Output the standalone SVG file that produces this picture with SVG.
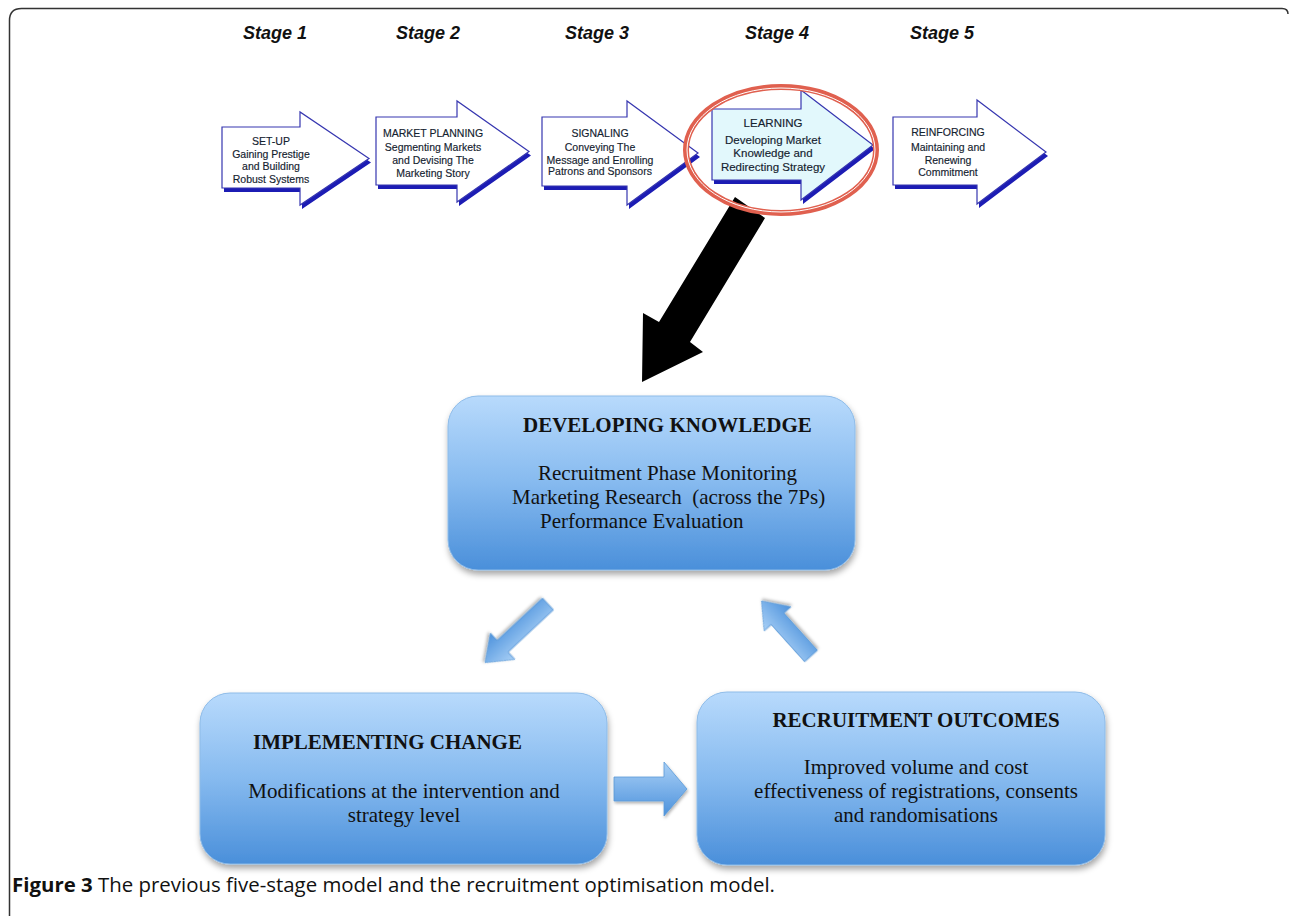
<svg xmlns="http://www.w3.org/2000/svg" width="1290" height="916" viewBox="0 0 1290 916">
<defs>
<linearGradient id="boxg" x1="0" y1="0" x2="0" y2="1">
<stop offset="0" stop-color="#b8dafc"/>
<stop offset="0.5" stop-color="#86baef"/>
<stop offset="1" stop-color="#4a8fda"/>
</linearGradient>
<linearGradient id="arrg" x1="0" y1="0" x2="0" y2="1">
<stop offset="0" stop-color="#a9d0f6"/>
<stop offset="1" stop-color="#4d92dc"/>
</linearGradient>
<filter id="sh" x="-10%" y="-10%" width="120%" height="130%">
<feDropShadow dx="1" dy="4" stdDeviation="3" flood-color="#000" flood-opacity="0.35"/>
</filter>
<filter id="sh2" x="-30%" y="-30%" width="160%" height="160%">
<feDropShadow dx="1" dy="2" stdDeviation="1.5" flood-color="#000" flood-opacity="0.3"/>
</filter>
</defs>
<style>
.stage{font-family:"Liberation Sans",Arial,sans-serif;font-weight:bold;font-style:italic;font-size:18px;fill:#111;text-anchor:middle}
.at{font-family:"Liberation Sans",Arial,sans-serif;font-size:10.5px;fill:#14222f;text-anchor:middle;stroke:#14222f;stroke-width:0.15}
.at4{font-size:11.5px}
.sa{fill:#fff;stroke:#3636b0;stroke-width:1.2}
.sas{fill:#1c1cb4}
.box{fill:url(#boxg);stroke:#8dbbe8;stroke-width:1;filter:url(#sh)}
.bt{font-family:"Liberation Serif","Times New Roman",serif;font-weight:bold;font-size:21px;fill:#111}
.bx{font-family:"Liberation Serif","Times New Roman",serif;font-size:21px;fill:#111;white-space:pre}
.sm{fill:url(#arrg);stroke:#5b9ad8;stroke-width:0.8;filter:url(#sh2)}
</style>

<path d="M9.5,916 V20.5 Q9.5,8.5 21.5,8.5 H1282 Q1288,8.5 1288,14" fill="none" stroke="#333" stroke-width="1.5"/>

<g id="stage-labels">
<text class="stage" x="275" y="39">Stage 1</text>
<text class="stage" x="428" y="39">Stage 2</text>
<text class="stage" x="597" y="39">Stage 3</text>
<text class="stage" x="777" y="39">Stage 4</text>
<text class="stage" x="942" y="39">Stage 5</text>
</g>

<g id="stage1">
<path class="sas" transform="translate(2,4)" d="M222,127 H300 V112 L369,158.5 L300,205 V188 H222 Z"/>
<path class="sa" d="M222,127 H300 V112 L369,158.5 L300,205 V188 H222 Z"/>
<text class="at" x="271" y="145">SET-UP</text>
<text class="at" x="271" y="158">Gaining Prestige</text>
<text class="at" x="271" y="170">and Building</text>
<text class="at" x="271" y="183">Robust Systems</text>
</g>

<g id="stage2">
<path class="sas" transform="translate(2,4)" d="M376,117 H457 V101 L529,151.5 L457,202 V185 H376 Z"/>
<path class="sa" d="M376,117 H457 V101 L529,151.5 L457,202 V185 H376 Z"/>
<text class="at" x="433" y="137">MARKET PLANNING</text>
<text class="at" x="433" y="151">Segmenting Markets</text>
<text class="at" x="433" y="164">and Devising The</text>
<text class="at" x="433" y="177">Marketing Story</text>
</g>

<g id="stage3">
<path class="sas" transform="translate(2,4)" d="M542,117 H627 V101 L698,153 L627,205 V186 H542 Z"/>
<path class="sa" d="M542,117 H627 V101 L698,153 L627,205 V186 H542 Z"/>
<text class="at" x="600" y="137">SIGNALING</text>
<text class="at" x="600" y="151">Conveying The</text>
<text class="at" x="600" y="164">Message and Enrolling</text>
<text class="at" x="600" y="175">Patrons and Sponsors</text>
</g>

<g id="stage4">
<path class="sas" transform="translate(2,4)" d="M712,109 H801 V90 L873,145 L801,200 V180 H712 Z"/>
<path class="sa" style="fill:#e2f8fc" d="M712,109 H801 V90 L873,145 L801,200 V180 H712 Z"/>
<text class="at at4" x="773" y="127">LEARNING</text>
<text class="at at4" x="773" y="144">Developing Market</text>
<text class="at at4" x="773" y="157">Knowledge and</text>
<text class="at at4" x="773" y="171">Redirecting Strategy</text>
</g>

<g id="stage5">
<path class="sas" transform="translate(2,4)" d="M893,117 H977 V100 L1046,152 L977,204 V185 H893 Z"/>
<path class="sa" d="M893,117 H977 V100 L1046,152 L977,204 V185 H893 Z"/>
<text class="at" x="948" y="136">REINFORCING</text>
<text class="at" x="948" y="151">Maintaining and</text>
<text class="at" x="948" y="164">Renewing</text>
<text class="at" x="948" y="176">Commitment</text>
</g>

<g id="connectors">
<polygon points="735,197 765,218 690,342 703,352 642,382 643,313 659,322" fill="#000"/>
<path class="sm" transform="translate(548,604) rotate(137)" d="M0,-8 H62 V-18 L86,0 L62,18 V8 H0 Z"/>
<path class="sm" transform="translate(811,656) rotate(228)" d="M0,-8.5 H50 V-18 L74,0 L50,18 V8.5 H0 Z"/>
<path class="sm" d="M614,777 H664 V762 L687,789 L664,816 V801 H614 Z"/>
</g>

<g id="highlight">
<ellipse cx="781" cy="150" rx="95" ry="63" fill="none" stroke="#e0604f" stroke-width="6"/>
<ellipse cx="781" cy="150" rx="94" ry="62" fill="none" stroke="#fff" stroke-width="1"/>
</g>

<g id="developing-knowledge">
<rect class="box" x="448" y="396" width="407" height="174" rx="30"/>
<text class="bt" x="523" y="432">DEVELOPING KNOWLEDGE</text>
<text class="bx" x="538" y="480">Recruitment Phase Monitoring</text>
<text class="bx" x="512" y="504">Marketing Research  (across the 7Ps)</text>
<text class="bx" x="540" y="528">Performance Evaluation</text>
</g>

<g id="implementing-change">
<rect class="box" x="200" y="693" width="407" height="171" rx="30"/>
<text class="bt" x="253" y="749">IMPLEMENTING CHANGE</text>
<text class="bx" x="404" y="798" text-anchor="middle">Modifications at the intervention and</text>
<text class="bx" x="404" y="822" text-anchor="middle">strategy level</text>
</g>

<g id="recruitment-outcomes">
<rect class="box" x="697" y="692" width="408" height="173" rx="30"/>
<text class="bt" x="916" y="727" text-anchor="middle">RECRUITMENT OUTCOMES</text>
<text class="bx" x="916" y="774" text-anchor="middle">Improved volume and cost</text>
<text class="bx" x="916" y="798" text-anchor="middle">effectiveness of registrations, consents</text>
<text class="bx" x="916" y="822" text-anchor="middle">and randomisations</text>
</g>

<text x="12" y="892" font-family="'Open Sans','Noto Sans',sans-serif" font-size="20" fill="#111" textLength="763" lengthAdjust="spacingAndGlyphs"><tspan font-weight="bold">Figure 3</tspan> The previous five-stage model and the recruitment optimisation model.</text>
</svg>
